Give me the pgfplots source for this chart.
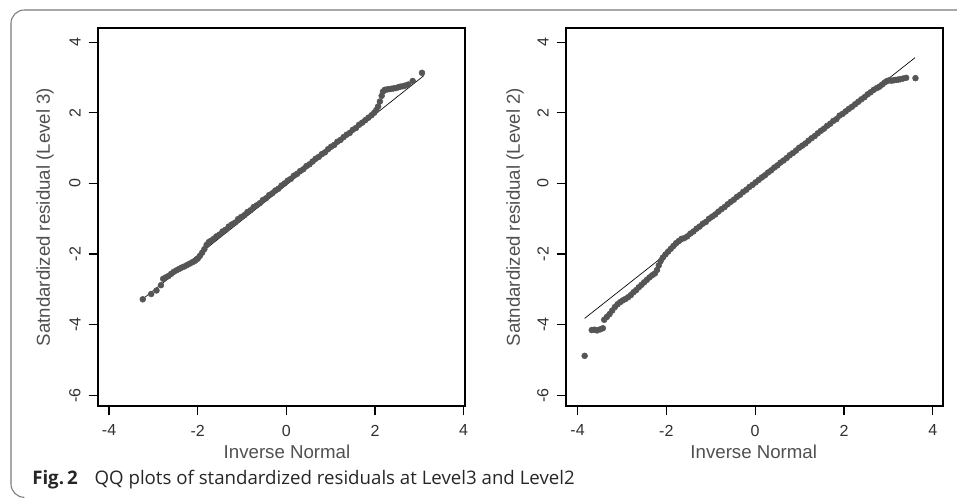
\documentclass[border=0pt]{standalone}
\usepackage{fontspec}
\setmainfont{Liberation Sans}
\newfontfamily\capfont{Open Sans}
\usepackage{pgfplots}
\pgfplotsset{compat=1.18}

\definecolor{pts}{HTML}{555555}
\definecolor{lbl}{HTML}{505050}
\definecolor{tck}{HTML}{303030}
\definecolor{rim}{HTML}{7A7A7A}

% common look of both QQ panels (Stata style)
\pgfplotsset{qq/.style={
    scale only axis,
    height=283.5pt,
    ymin=-6.3, ymax=4.4,
    xtick={-4,-2,0,2,4}, xticklabels={-4,-2,0,2,4},
    ytick={-6,-4,-2,0,2,4}, yticklabels={-6,-4,-2,0,2,4},
    xtick pos=bottom, ytick pos=left,
    tick align=outside, major tick length=7pt,
    tick style={black, line width=0.9pt},
    axis line style={black, line width=1.1pt},
    tick label style={font=\fontsize{12}{14}\selectfont, text=tck},
    yticklabel style={rotate=90, anchor=south},
    yticklabel shift=2.5pt,
    xticklabel style={inner ysep=7pt},
    label style={font=\fontsize{14}{16}\selectfont, text=lbl},
    xlabel={Inverse Normal},
    y label style={anchor=center},
    x label style={anchor=center},
  }}

\begin{document}
\begin{tikzpicture}
\useasboundingbox (0,0) rectangle (717.75pt,-373.5pt);
\draw[rim, line width=0.8pt] (717.75pt,-7.5pt) -- (18.25pt,-7.5pt)
  arc[start angle=90, end angle=180, radius=10pt] -- (8.25pt,-363pt)
  arc[start angle=180, end angle=270, radius=10pt];

% ---- Level 3 ----
\begin{axis}[qq,
    at={(73.5pt,-21pt)}, anchor=north west,
    width=275.25pt,
    xmin=-4.25, xmax=4.03,
    ylabel={Satndardized residual (Level 3)},
    every axis y label/.append style={at={(axis description cs:-0.144,0.5)}},
    every axis x label/.append style={at={(axis description cs:0.515,-0.122)}},
  ]
  \addplot[only marks, mark=*, mark size=2.2pt, color=pts] coordinates {
    (-3.24,-3.28) (-3.05,-3.13) (-2.93,-3.03) (-2.83,-2.88)
    (-2.78,-2.70) (-2.72,-2.66) (-2.66,-2.62) (-2.60,-2.56) (-2.54,-2.50)
    (-2.48,-2.46) (-2.42,-2.42) (-2.36,-2.38) (-2.30,-2.35) (-2.24,-2.31)
    (-2.18,-2.27) (-2.12,-2.23) (-2.06,-2.19) (-2.00,-2.13) (-1.95,-2.05)
    (-1.90,-1.96) (-1.85,-1.86) (-1.80,-1.74) (-1.75,-1.66) (-1.70,-1.62)
    (-1.64,-1.57)
    (-1.58,-1.50) (-1.51,-1.45) (-1.44,-1.36) (-1.37,-1.31) (-1.30,-1.22)
    (-1.23,-1.16) (-1.16,-1.11) (-1.09,-1.01) (-1.02,-0.95) (-0.95,-0.90)
    (-0.88,-0.81) (-0.81,-0.76) (-0.74,-0.67) (-0.67,-0.62) (-0.60,-0.56)
    (-0.53,-0.47) (-0.46,-0.42) (-0.39,-0.33) (-0.32,-0.28) (-0.25,-0.20)
    (-0.18,-0.15) (-0.11,-0.06) (-0.04,0.00) (0.03,0.08) (0.10,0.13)
    (0.17,0.22) (0.24,0.27) (0.31,0.35) (0.38,0.40) (0.45,0.49)
    (0.52,0.54) (0.59,0.62) (0.66,0.70) (0.73,0.75) (0.80,0.83)
    (0.87,0.88) (0.94,0.97) (1.01,1.04) (1.08,1.09) (1.15,1.18)
    (1.22,1.23) (1.29,1.31) (1.36,1.38) (1.43,1.43) (1.50,1.52)
    (1.57,1.57) (1.64,1.66) (1.71,1.72) (1.78,1.79) (1.85,1.86)
    (1.92,1.93) (1.98,2.00) (2.03,2.08) (2.07,2.18) (2.11,2.32)
    (2.15,2.48) (2.18,2.60) (2.22,2.65) (2.27,2.66) (2.32,2.67)
    (2.37,2.68) (2.42,2.69) (2.47,2.70) (2.52,2.72) (2.57,2.74)
    (2.63,2.75) (2.68,2.77) (2.75,2.80) (2.85,2.90) (3.06,3.13)
  };
  \addplot[black, line width=0.5pt] coordinates {(-3.25,-3.28) (3.10,3.05)};
\end{axis}

% ---- Level 2 ----
\begin{axis}[qq,
    at={(424.5pt,-21pt)}, anchor=north west,
    width=282.75pt,
    xmin=-4.26, xmax=4.23,
    ylabel={Satndardized residual (Level 2)},
    every axis y label/.append style={at={(axis description cs:-0.135,0.5)}},
    every axis x label/.append style={at={(axis description cs:0.498,-0.122)}},
  ]
  \addplot[only marks, mark=*, mark size=2.2pt, color=pts] coordinates {
    (-3.84,-4.88) (-3.68,-4.15) (-3.62,-4.14) (-3.56,-4.16) (-3.49,-4.13)
    (-3.43,-4.10)
    (-3.40,-3.86) (-3.34,-3.78) (-3.28,-3.70) (-3.22,-3.60) (-3.16,-3.50)
    (-3.10,-3.42) (-3.04,-3.36) (-2.98,-3.31) (-2.92,-3.27) (-2.86,-3.22)
    (-2.80,-3.16) (-2.74,-3.08) (-2.68,-3.02) (-2.62,-2.94) (-2.56,-2.87)
    (-2.50,-2.80) (-2.44,-2.73) (-2.38,-2.66) (-2.32,-2.60) (-2.26,-2.55)
    (-2.21,-2.45) (-2.17,-2.32) (-2.13,-2.20) (-2.08,-2.10) (-2.02,-2.01)
    (-1.96,-1.93) (-1.90,-1.85) (-1.84,-1.77) (-1.78,-1.69) (-1.72,-1.63)
    (-1.66,-1.57)
    (-1.60,-1.55) (-1.53,-1.50) (-1.46,-1.42) (-1.39,-1.36) (-1.32,-1.28)
    (-1.25,-1.22) (-1.18,-1.14) (-1.11,-1.09) (-1.04,-1.00) (-0.97,-0.94)
    (-0.90,-0.88) (-0.83,-0.80) (-0.76,-0.73) (-0.69,-0.67) (-0.62,-0.59)
    (-0.55,-0.52) (-0.48,-0.46) (-0.41,-0.38) (-0.34,-0.32) (-0.27,-0.24)
    (-0.20,-0.18) (-0.13,-0.10) (-0.06,-0.04) (0.01,0.03) (0.08,0.10)
    (0.15,0.17) (0.22,0.23) (0.29,0.31) (0.36,0.37) (0.43,0.45)
    (0.50,0.51) (0.57,0.59) (0.64,0.65) (0.71,0.72) (0.78,0.80)
    (0.85,0.86) (0.92,0.93) (0.99,1.01) (1.06,1.07) (1.13,1.13)
    (1.20,1.21) (1.27,1.28) (1.34,1.34) (1.41,1.42) (1.48,1.49)
    (1.55,1.55) (1.62,1.63) (1.69,1.69) (1.76,1.77) (1.83,1.82)
    (1.90,1.92) (1.97,1.97) (2.04,2.04) (2.11,2.11) (2.18,2.17)
    (2.25,2.24) (2.32,2.31) (2.39,2.38) (2.46,2.44) (2.53,2.52)
    (2.60,2.58) (2.67,2.65) (2.74,2.70) (2.80,2.74) (2.86,2.80)
    (2.92,2.86) (2.97,2.90) (3.02,2.92) (3.07,2.91) (3.12,2.92)
    (3.17,2.93) (3.22,2.94) (3.27,2.95) (3.33,2.97) (3.40,2.99)
    (3.61,2.98)
  };
  \addplot[black, line width=0.5pt] coordinates {(-3.84,-3.82) (3.60,3.56)};
\end{axis}

\node[anchor=west, font=\capfont\fontsize{14}{16}\selectfont, text=black!85,
      inner sep=0pt] at (24pt,-360pt)
  {\textbf{Fig.\,2}\hspace{0.9em}QQ plots of standardized residuals at Level3 and Level2};
\end{tikzpicture}
\end{document}
